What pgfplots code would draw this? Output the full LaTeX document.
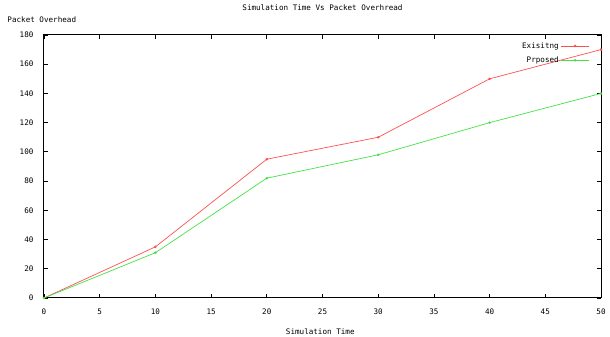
\documentclass[border=0pt]{standalone}
\usepackage{pgfplots}
\pgfplotsset{compat=1.18}
\usepackage{fontspec}
\setmainfont{DejaVu Sans Mono}
\definecolor{gred}{RGB}{255,80,80}
\definecolor{ggreen}{RGB}{70,225,70}
\begin{document}
\begin{tikzpicture}
\begin{axis}[
  name=ax,
  scale only axis,
  width=557pt, height=263pt,
  xmin=0, xmax=50, ymin=0, ymax=180,
  xtick={0,5,...,50}, ytick={0,20,...,180},
  tick align=inside,
  major tick length=4pt,
  axis line style={line width=1pt},
  every tick/.style={black, line width=0.8pt},
  font=\fontsize{7.6}{9}\selectfont,
  /pgf/number format/assume math mode=true,
  ticklabel style={font=\fontsize{7.6}{9}\selectfont},
  xticklabel style={yshift=-7pt},
  yticklabel style={xshift=-7pt},
  title={Simulation Time Vs Packet Overhread},
  title style={at={(axis description cs:0.5,1.08)}, anchor=center},
  xlabel={Simulation Time},
  xlabel style={at={(axis description cs:0.496,-0.129)}, anchor=center},
  ylabel={Packet Overhead},
  ylabel style={at={(axis description cs:-0.004,1.057)}, anchor=center, rotate=-90},
  legend style={draw=none, fill=none, at={(rel axis cs:0.985,0.988)}, anchor=north east,
    font=\fontsize{7.6}{9}\selectfont, row sep=3pt},
  legend cell align=right,
  legend plot pos=right,
  legend image code/.code={\draw[#1] (5pt,0pt) -- (33pt,0pt); \draw[#1, mark repeat=1] plot coordinates {(19pt,0pt)};},
]
\addplot[gred, line width=0.7pt, mark=*, mark size=0.9pt] coordinates {
(0,0) (10,35) (20,95) (30,110) (40,150) (50,170)};
\addlegendentry{Exisitng}
\addplot[ggreen, line width=0.7pt, mark=*, mark size=0.9pt] coordinates {
(0,0) (10,31) (20,82) (30,98) (40,120) (50,140)};
\addlegendentry{Prposed}
\end{axis}
\pgfresetboundingbox
\path ([xshift=-44pt,yshift=-39pt]ax.south west) rectangle ([xshift=9pt,yshift=35pt]ax.north east);
\end{tikzpicture}
\end{document}
